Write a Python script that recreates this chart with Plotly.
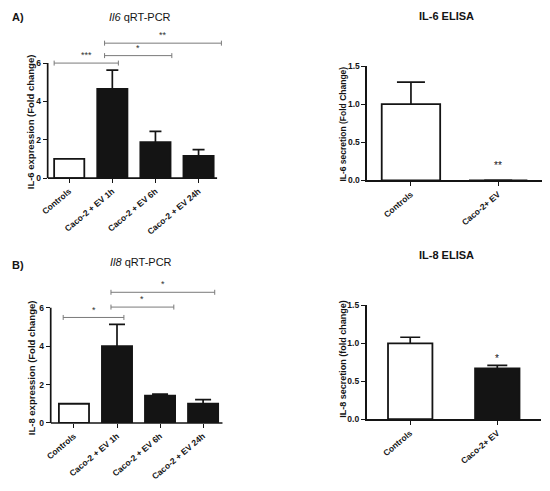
import plotly.graph_objects as go

# categories
pcr_cats = ["Controls", "Caco-2 + EV 1h", "Caco-2 + EV 6h", "Caco-2 + EV 24h"]
elisa_cats = ["Controls", "Caco-2+ EV"]

# IL-6
il6_pcr = [1.0, 4.65, 1.88, 1.16]
il6_pcr_err = [0.0, 0.98, 0.56, 0.33]
il6_elisa = [1.0, 0.0]
il6_elisa_err = [0.29, 0.0]

# IL-8
il8_pcr = [1.0, 4.0, 1.42, 1.0]
il8_pcr_err = [0.0, 1.13, 0.08, 0.22]
il8_elisa = [1.0, 0.67]
il8_elisa_err = [0.08, 0.04]

# significance brackets (x start, x end, height, label)
a_br_x0 = [-0.35, 0.82, 0.82]
a_br_x1 = [1.14, 2.38, 3.53]
a_br_y = [6.0, 6.39, 7.04]
a_br_txt = ["***", "*", "**"]

b_br_x0 = [-0.25, 0.86, 0.86]
b_br_x1 = [1.16, 2.32, 3.27]
b_br_y = [5.49, 6.03, 6.8]
b_br_txt = ["*", "*", "*"]

# ELISA stars (category index, height, label)
c_star = (1, 0.2, "**")
d_star = (1, 0.8, "*")

FONT = "Liberation Sans, Arial, sans-serif"
BLACK = "#141414"
GREY = "#7a7a7a"

pcr_colors = ["white", BLACK, BLACK, BLACK]
elisa6_colors = ["white", BLACK]
elisa8_colors = ["white", BLACK]

fig = go.Figure()


def add_bars(vals, errs, colors, cats, xa, ya, width, cap):
    xs = list(range(len(cats)))
    # error bars go on a hidden copy underneath, so the bars hide the lower half
    fig.add_trace(go.Bar(
        x=xs, y=vals, width=width,
        marker=dict(color="rgba(0,0,0,0)", line=dict(width=0)),
        error_y=dict(type="data", array=errs, color=BLACK, thickness=1.7, width=cap),
        xaxis=xa, yaxis=ya, showlegend=False, hoverinfo="skip"))
    fig.add_trace(go.Bar(
        x=xs, y=vals, width=width,
        marker=dict(color=colors, line=dict(color=BLACK, width=1.8)),
        xaxis=xa, yaxis=ya, showlegend=False))


def add_brackets(x0s, x1s, ys, txts, xa, ya):
    d = 0.13
    for x0, x1, y, t in zip(x0s, x1s, ys, txts):
        fig.add_trace(go.Scatter(
            x=[x0, x0, None, x0, x1, None, x1, x1],
            y=[y - d, y + d, None, y, y, None, y - d, y + d],
            mode="lines", line=dict(color=GREY, width=1),
            xaxis=xa, yaxis=ya, showlegend=False, hoverinfo="skip"))
        fig.add_annotation(x=(x0 + x1) / 2, y=y + 0.05, text=t, xref=xa, yref=ya,
                           showarrow=False, yanchor="bottom",
                           font=dict(size=9, color="#333333", family=FONT))


add_bars(il6_pcr, il6_pcr_err, pcr_colors, pcr_cats, "x", "y", 0.7, 6)
add_brackets(a_br_x0, a_br_x1, a_br_y, a_br_txt, "x", "y")
add_bars(il6_elisa, il6_elisa_err, elisa6_colors, elisa_cats, "x2", "y2", 0.67, 14)
add_bars(il8_pcr, il8_pcr_err, pcr_colors, pcr_cats, "x3", "y3", 0.7, 8)
add_brackets(b_br_x0, b_br_x1, b_br_y, b_br_txt, "x3", "y3")
add_bars(il8_elisa, il8_elisa_err, elisa8_colors, elisa_cats, "x4", "y4", 0.51, 10)

for (ci, cy, ct), xa, ya in [(c_star, "x2", "y2"), (d_star, "x4", "y4")]:
    fig.add_annotation(x=ci, y=cy, text=ct, xref=xa, yref=ya, showarrow=False,
                       yanchor="middle", font=dict(size=10, color=BLACK, family=FONT))

tickfont = dict(family=FONT, size=8.5, color=BLACK, weight="bold")
xcommon = dict(tickangle=-40, ticks="outside", ticklen=4, tickwidth=1.4, tickcolor=BLACK,
               showgrid=False, zeroline=False, tickfont=tickfont, linecolor=BLACK, linewidth=1.7)
ycommon = dict(ticks="outside", ticklen=4, tickwidth=1.4, tickcolor=BLACK,
               showgrid=False, zeroline=False, tickfont=tickfont, linecolor=BLACK, linewidth=1.7)

fig.update_layout(
    width=550, height=491, margin=dict(l=0, r=0, t=0, b=0),
    paper_bgcolor="white", plot_bgcolor="white", barmode="overlay",
    # panel A: Il6 qRT-PCR
    xaxis=dict(domain=[0.0749, 0.4004], range=[-0.5, 3.6], tickvals=[0, 1, 2, 3],
               ticktext=pcr_cats, showline=False, anchor="y", **xcommon),
    yaxis=dict(domain=[0.6401, 0.943], range=[0, 7.6], tickvals=[0, 2, 4, 6],
               showline=False, anchor="x", **ycommon),
    # panel C: IL-6 ELISA
    xaxis2=dict(domain=[0.6636, 0.9849], range=[-0.5, 1.5], tickvals=[0, 1],
                ticktext=elisa_cats, showline=True, anchor="y2", **xcommon),
    yaxis2=dict(domain=[0.6354, 0.8731], range=[0, 1.5], tickvals=[0, 0.5, 1.0, 1.5],
                tickformat=".1f", showline=True, anchor="x2", **ycommon),
    # panel B: Il8 qRT-PCR
    xaxis3=dict(domain=[0.0805, 0.4087], range=[-0.54, 3.6], tickvals=[0, 1, 2, 3],
                ticktext=pcr_cats, showline=False, anchor="y3", **xcommon),
    yaxis3=dict(domain=[0.131, 0.4267], range=[0, 7.4], tickvals=[0, 2, 4, 6],
                showline=False, anchor="x3", **ycommon),
    # panel D: IL-8 ELISA
    xaxis4=dict(domain=[0.6624, 0.9831], range=[-0.5, 1.5], tickvals=[0, 1],
                ticktext=elisa_cats, showline=True, anchor="y4", **xcommon),
    yaxis4=dict(domain=[0.1391, 0.3754], range=[0, 1.5], tickvals=[0, 0.5, 1.0, 1.5],
                tickformat=".1f", showline=True, anchor="x4", **ycommon),
)

# axis lines for the qRT-PCR panels stop at the last tick
for xa, ya, xl, xr in [("x", "y", -0.5, 3.43), ("x3", "y3", -0.54, 3.45)]:
    fig.add_shape(type="line", xref=xa + " domain", yref=ya, x0=0, x1=0, y0=0, y1=6,
                  line=dict(color=BLACK, width=1.7))
    fig.add_shape(type="line", xref=xa, yref=ya + " domain", x0=xl, x1=xr, y0=0, y1=0,
                  line=dict(color=BLACK, width=1.7))

# titles and panel letters
titles = [
    ("A)", 0.006, 0.975, "left", dict(size=11, weight="bold")),
    ("<i>Il6</i> qRT-PCR", 0.245, 0.975, "center", dict(size=11)),
    ("IL-6 ELISA", 0.809, 0.978, "center", dict(size=11, weight="bold")),
    ("B)", 0.006, 0.459, "left", dict(size=11, weight="bold")),
    ("<i>Il8</i> qRT-PCR", 0.247, 0.465, "center", dict(size=11)),
    ("IL-8 ELISA", 0.809, 0.481, "center", dict(size=11, weight="bold")),
]
for txt, x, y, anc, f in titles:
    fig.add_annotation(text=txt, x=x, y=y, xref="paper", yref="paper", showarrow=False,
                       xanchor=anc, yanchor="middle",
                       font=dict(family=FONT, color=BLACK, **f))

ytitles = [
    ("IL-6 expression (Fold change)", 0.0427, 0.7566, 9.5),
    ("IL-6 secretion (Fold Change)", 0.618, 0.7525, 8.5),
    ("IL-8 expression (Fold change)", 0.0455, 0.2464, 9.5),
    ("IL-8 secretion (fold change)", 0.62, 0.2637, 9),
]
for txt, x, y, s in ytitles:
    fig.add_annotation(text=txt, x=x, y=y, xref="paper", yref="paper", showarrow=False,
                       textangle=-90, xanchor="center", yanchor="middle",
                       font=dict(family=FONT, color=BLACK, size=s, weight="bold"))

# the page's default body margin would push the figure 8px in
fig.write_html("out.html", config={"displayModeBar": False},
               post_script="document.body.style.margin = '0';")
